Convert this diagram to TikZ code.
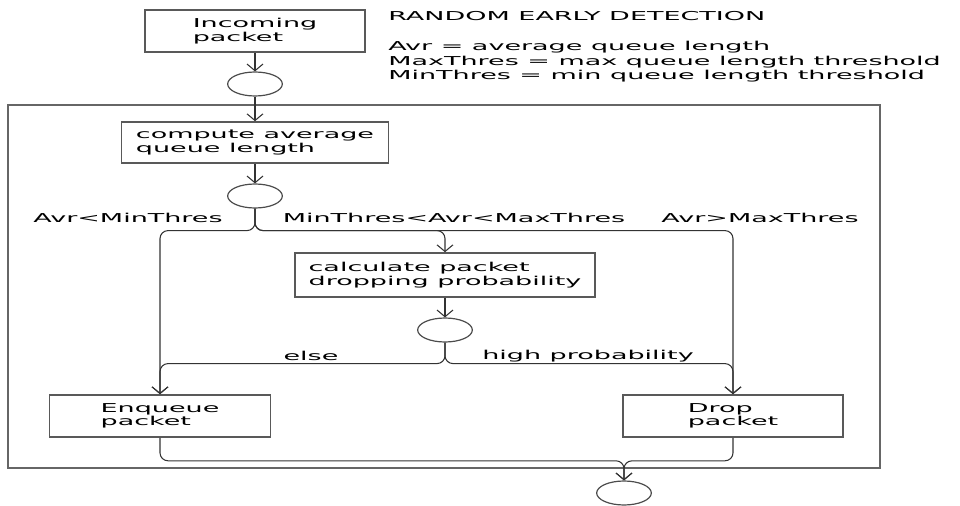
\documentclass[tikz,border=0pt]{standalone}
\usepackage{fontspec}
\setmainfont{DejaVu Sans}[FakeStretch=2.2]
\usetikzlibrary{shapes.geometric,arrows.meta}
\tikzset{
  box/.style={draw=black!65, line width=1.2pt, align=left, inner sep=0pt, minimum height=31.5pt},
  junc/.style={draw=black!70, line width=0.9pt, ellipse, inner sep=0pt, minimum width=41pt, minimum height=18pt},
  flow/.style={draw=black!80, line width=0.8pt, rounded corners=6pt, -{Straight Barb[length=5pt,width=12pt]}},
  lbl/.style={anchor=base, inner sep=0pt},
  leg/.style={anchor=base west, inner sep=0pt},
}
\begin{document}
\begin{tikzpicture}[x=0.75pt, y=-0.75pt, font=\fontsize{9.2}{10}\selectfont]
\useasboundingbox (0,0) rectangle (960,506);
\draw[draw=black!60, line width=1.2pt] (8,105) rectangle (880,468);
\node[box, minimum width=165pt] (inc) at (255,31) {Incoming\\packet};
\node[junc] (j1) at (255,84) {};
\node[box, minimum width=200pt, minimum height=30.75pt] (avg) at (255,142.5) {compute average\\queue length};
\node[junc] (j2) at (255,196) {};
\node[box, minimum width=225pt, minimum height=33pt] (calc) at (445,275) {calculate packet\\dropping probability};
\node[junc] (j3) at (445,330) {};
\node[box, minimum width=166pt] (enq) at (160,416) {Enqueue\\packet};
\node[box, minimum width=165pt] (drop) at (733,416) {Drop\\packet};
\node[junc] (j4) at (624,493) {};

\draw[flow] (inc) -- (j1);
\draw[flow] (j1) -- (avg);
\draw[flow] (avg) -- (j2);
\draw[flow] (j2.south) -- ++(0,22) -| (enq.north);
\draw[flow] (j2.south) -- ++(0,22) -| (calc.north);
\draw[flow] (j2.south) -- ++(0,22) -| (drop.north);
\draw[flow] (calc) -- (j3);
\draw[flow] (j3.south) -- ++(0,21) -| (enq.north);
\draw[flow] (j3.south) -- ++(0,21) -| (drop.north);
\draw[flow] (enq.south) -- ++(0,23) -| (j4.north);
\draw[flow] (drop.south) -- ++(0,23) -| (j4.north);

\node[lbl] (lmin) at (128,223) {Avr<MinThres};
\node[lbl] (lmid) at (454,223) {MinThres<Avr<MaxThres};
\node[lbl] (lmax) at (760,223) {Avr>MaxThres};
\node[lbl] (lelse) at (311,360) {else};
\node[lbl] (lhigh) at (588,359) {high probability};

\node[leg] (title) at (388,21) {RANDOM EARLY DETECTION};
\node[leg] (leg1) at (388,51) {Avr = average queue length};
\node[leg] (leg2) at (388,66) {MaxThres = max queue length threshold};
\node[leg] (leg3) at (388,80) {MinThres = min queue length threshold};
\end{tikzpicture}
\end{document}
